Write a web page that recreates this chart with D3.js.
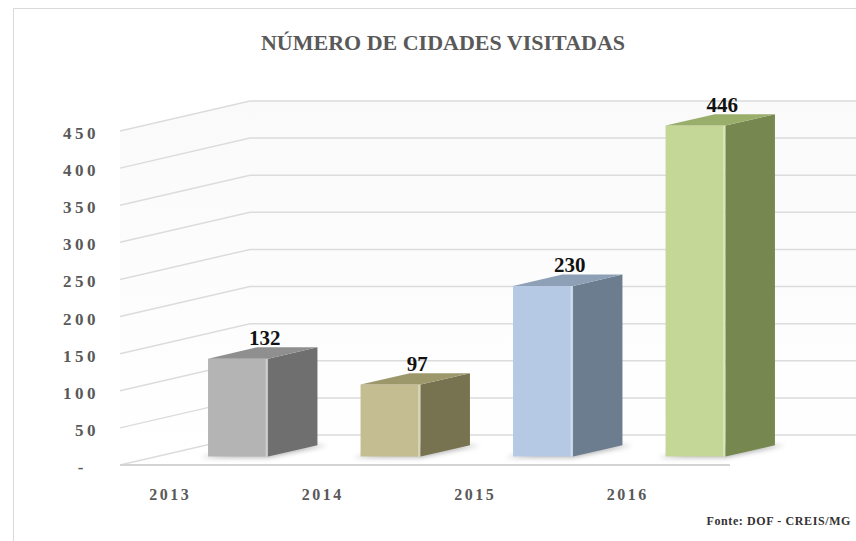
<!DOCTYPE html>
<html>
<head>
<meta charset="utf-8">
<script src="https://cdn.jsdelivr.net/npm/d3@7"></script>
<style>
  body { margin: 0; background: #fff; }
  svg { display: block; }
  text { font-family: "Liberation Serif", "Times New Roman", serif; font-weight: bold; }
</style>
</head>
<body>
<div id="chart"></div>
<script>
var years = ["2013", "2014", "2015", "2016"];
var values = [132, 97, 230, 446];
var yTicks = [0, 50, 100, 150, 200, 250, 300, 350, 400, 450];
var tickLabels = ["-", "50", "100", "150", "200", "250", "300", "350", "400", "450"];
var frontColors = ["#b4b4b4", "#c4bd91", "#b5c9e4", "#c4d796"];
var sideColors = ["#6f6f6f", "#777250", "#6c7d8f", "#76874f"];
var topColors = ["#8f8f8f", "#9d976c", "#8ea0b6", "#9aae6b"];

var width = 856,
    height = 541,
    depthX = 130,   // full floor depth, screen offset
    depthY = 30,
    zFront = 0.28,
    zBack = 0.66,
    barW = 60;

var svg = d3.select("#chart").append("svg")
    .attr("width", width)
    .attr("height", height);

var defs = svg.append("defs");
var wallGrad = defs.append("linearGradient")
    .attr("id", "wall").attr("x1", 0).attr("y1", 0).attr("x2", 0).attr("y2", 1);
wallGrad.append("stop").attr("offset", "0%").attr("stop-color", "#fafafa");
wallGrad.append("stop").attr("offset", "100%").attr("stop-color", "#ffffff");
defs.append("filter").attr("id", "blur")
    .attr("x", "-50%").attr("y", "-50%").attr("width", "200%").attr("height", "200%")
    .append("feGaussianBlur").attr("stdDeviation", 2.5);

// chart frame
svg.append("path")
    .attr("d", "M13.5," + height + "V8.5H" + width)
    .attr("fill", "none")
    .attr("stroke", "#d9d9d9");

var x = d3.scaleBand()
    .domain(years)
    .range([120, 730]);

var y = d3.scaleLinear()
    .domain([0, 450])
    .range([465, 131]);

// project a front-plane point to screen with depth z (0 = front, 1 = back wall)
function proj(px, py, z) {
    return [px + z * depthX, py - z * depthY];
}

function poly(pts) {
    return "M" + pts.map(function (p) { return p[0] + "," + p[1]; }).join("L") + "Z";
}

var x0 = x.range()[0], x1 = x.range()[1];

// walls
svg.append("path")
    .attr("d", poly([proj(x0, y(450), 0), proj(x0, y(450), 1), proj(x1, y(450), 1),
        proj(x1, y(0), 1), proj(x0, y(0), 1), proj(x0, y(0), 0)]))
    .attr("fill", "url(#wall)");

// gridlines: side wall slant + back wall horizontal
svg.append("g").selectAll("path")
    .data(yTicks)
    .enter().append("path")
    .attr("d", function (d) {
        var a = proj(x0, y(d), 0), b = proj(x0, y(d), 1), c = proj(x1, y(d), 1);
        return "M" + a + "L" + b + "L" + c;
    })
    .attr("fill", "none")
    .attr("stroke", "#dcdcdc")
    .attr("stroke-width", 1.5);

// floor front edge
svg.append("line")
    .attr("x1", x0).attr("x2", x1)
    .attr("y1", y(0)).attr("y2", y(0))
    .attr("stroke", "#d4d4d4")
    .attr("stroke-width", 2);

function barLeft(d) {
    return x(d) + x.bandwidth() / 2 - 24.6;
}

var bars = svg.append("g").selectAll("g")
    .data(years)
    .enter().append("g");

// soft floor shadows
bars.append("path")
    .attr("d", function (d) {
        var l = barLeft(d), r = l + barW;
        return poly([proj(l - 8, y(0) + 1, zFront), proj(r, y(0) + 1, zFront),
            proj(r + 10, y(0), zBack), proj(l + 10, y(0), zBack)]);
    })
    .attr("fill", "rgba(0,0,0,0.3)")
    .attr("filter", "url(#blur)");

// front face
bars.append("path")
    .attr("d", function (d, i) {
        var l = barLeft(d), r = l + barW, t = y(values[i]), b = y(0);
        return poly([proj(l, t, zFront), proj(r, t, zFront), proj(r, b, zFront), proj(l, b, zFront)]);
    })
    .attr("fill", function (d, i) { return frontColors[i]; });

// highlight at front-right edge
bars.append("path")
    .attr("d", function (d, i) {
        var r = barLeft(d) + barW, t = y(values[i]), b = y(0);
        return "M" + proj(r - 1.5, t, zFront) + "L" + proj(r - 1.5, b, zFront);
    })
    .attr("stroke", "rgba(255,255,255,0.35)")
    .attr("stroke-width", 2);

// side face
bars.append("path")
    .attr("d", function (d, i) {
        var r = barLeft(d) + barW, t = y(values[i]), b = y(0);
        return poly([proj(r, t, zFront), proj(r, t, zBack), proj(r, b, zBack), proj(r, b, zFront)]);
    })
    .attr("fill", function (d, i) { return sideColors[i]; });

// top face
bars.append("path")
    .attr("d", function (d, i) {
        var l = barLeft(d), r = l + barW, t = y(values[i]);
        return poly([proj(l, t, zFront), proj(r, t, zFront), proj(r, t, zBack), proj(l, t, zBack)]);
    })
    .attr("fill", function (d, i) { return topColors[i]; });

// value labels
bars.append("text")
    .attr("x", function (d) {
        var l = barLeft(d);
        return (proj(l, 0, zFront)[0] + proj(l + barW, 0, zBack)[0]) / 2 + 2;
    })
    .attr("y", function (d, i) { return proj(0, y(values[i]), zBack)[1] - 2; })
    .attr("text-anchor", "middle")
    .attr("font-size", "21px")
    .attr("fill", "#111")
    .text(function (d, i) { return values[i]; });

// y tick labels
svg.append("g").selectAll("text")
    .data(yTicks)
    .enter().append("text")
    .attr("x", function (d, i) { return tickLabels[i] === "-" ? 87 : 99; })
    .attr("y", function (d) { return y(d) + 8; })
    .attr("text-anchor", "end")
    .attr("font-size", "17px")
    .attr("letter-spacing", "3.5px")
    .attr("fill", "#595959")
    .text(function (d, i) { return tickLabels[i]; });

// x labels
svg.append("g").selectAll("text")
    .data(years)
    .enter().append("text")
    .attr("x", function (d) { return x(d) + x.bandwidth() / 2 - 26; })
    .attr("y", 500)
    .attr("text-anchor", "middle")
    .attr("font-size", "16px")
    .attr("letter-spacing", "2.5px")
    .attr("fill", "#595959")
    .text(function (d) { return d; });

// title
svg.append("text")
    .attr("x", 443)
    .attr("y", 50)
    .attr("text-anchor", "middle")
    .attr("font-size", "22px")
    .attr("fill", "#595959")
    .text("NÚMERO DE CIDADES VISITADAS");

// source
svg.append("text")
    .attr("x", 851)
    .attr("y", 525)
    .attr("text-anchor", "end")
    .attr("font-size", "12px")
    .attr("letter-spacing", "0.6px")
    .attr("fill", "#333")
    .text("Fonte: DOF - CREIS/MG");
</script>
</body>
</html>
